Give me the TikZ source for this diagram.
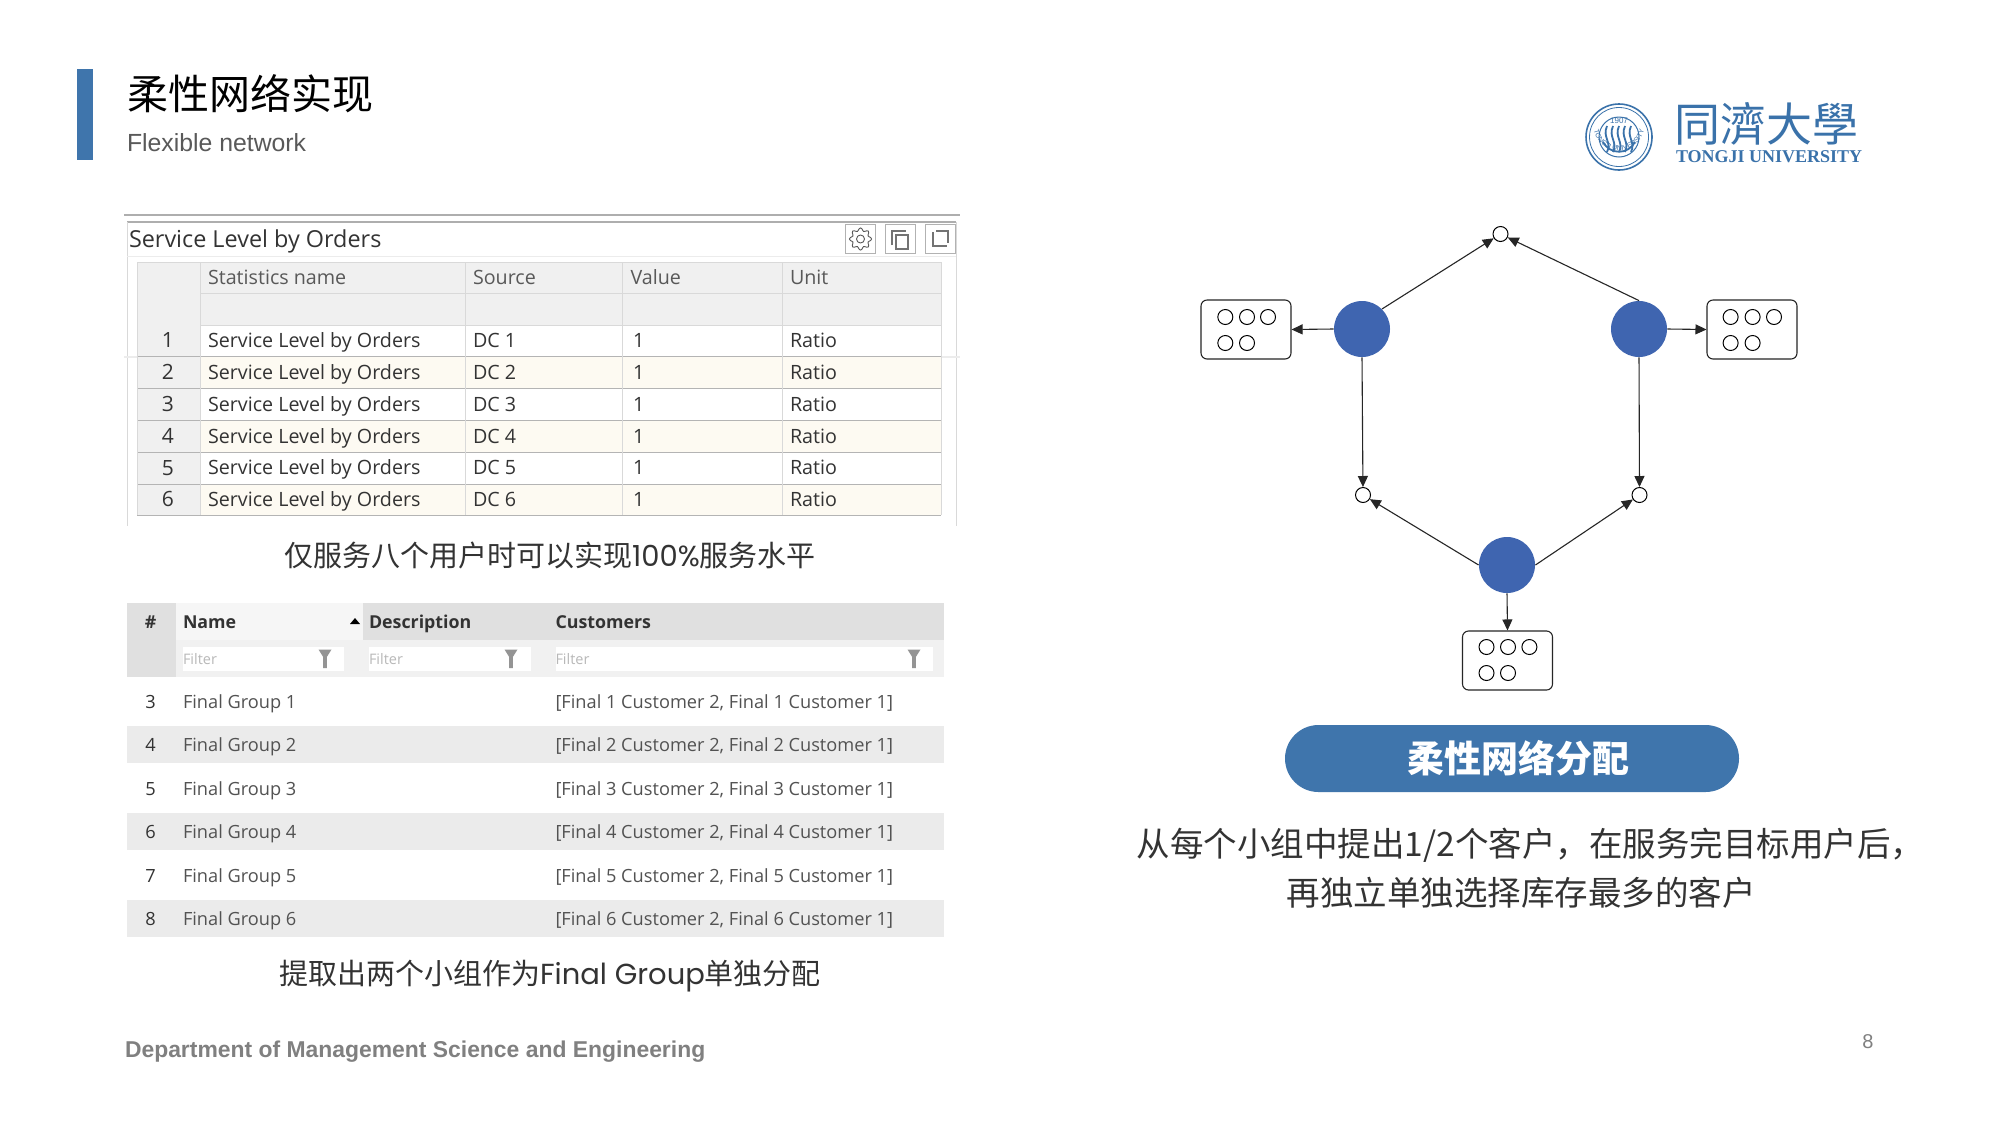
\documentclass[tikz,border=0pt]{standalone}
\usepackage{fontspec}
\setmainfont{Liberation Sans}
\newfontfamily\cjk{Noto Sans CJK SC}
\newfontfamily\opn{Open Sans}
\newfontfamily\pop{Poppins}
\newfontfamily\lserif{Liberation Serif}
\usetikzlibrary{arrows.meta,decorations.text}
\newcommand{\fpx}[1]{\fontsize{\fpeval{#1/2}pt}{\fpeval{#1/2*1.2}pt}\selectfont}
\definecolor{barblue}{HTML}{3F75AC}
\definecolor{dotblue}{HTML}{3F65B0}
\definecolor{logoblue}{HTML}{3A72AA}
\definecolor{headgray}{HTML}{F0F0F0}
\definecolor{cream}{HTML}{FDFAF2}
\definecolor{gridgray}{HTML}{B4B4B4}
\definecolor{softgray}{HTML}{D9D9D9}
\definecolor{headtwo}{HTML}{E0E0E0}
\definecolor{filtrow}{HTML}{F1F1F1}
\definecolor{stripe}{HTML}{EBEBEB}
\definecolor{txtdark}{HTML}{333333}
\tikzset{
  txt/.style={inner sep=0pt,outer sep=0pt},
  celltext/.style={txt,anchor=west,text=txtdark,font=\opn\fpx{19.7},text height=7pt,text depth=0pt},
  cellnum/.style={txt,text=txtdark,font=\opn\fpx{21},text height=7.5pt,text depth=0pt},
  groupcell/.style={txt,anchor=west,text=txtdark!85,font=\opn\fpx{18.2},text height=6.5pt,text depth=0pt},
  headtwotext/.style={txt,anchor=west,text=txtdark,font=\opn\bfseries\fpx{17.8},text height=6.4pt,text depth=0pt},
  filtertext/.style={txt,anchor=west,text=black!28,font=\opn\fpx{14.5},text height=5.2pt,text depth=0pt},
  caption/.style={txt,text=txtdark,font=\cjk\fpx{29},text height=12.7pt,text depth=1.7pt},
  bodytext/.style={txt,text=txtdark,font=\cjk\fpx{33.5},text height=14.7pt,text depth=2pt},
  hub/.style={circle,fill=dotblue,draw=none,minimum size=56*0.5pt,inner sep=0pt},
  slot/.style={circle,draw=black,fill=white,line width=0.5pt,minimum size=15*0.5pt,inner sep=0pt},
  custbox/.style={rectangle,rounded corners=3pt,draw=black!85,fill=white,line width=0.55pt,inner sep=0pt,minimum width=90*0.5pt,minimum height=59*0.5pt},
  link/.style={-{Triangle[length=5.5pt,width=5pt]},draw=black!85,line width=0.55pt},
  iconbox/.style={rectangle,draw=black!30,fill=white,line width=0.5pt,minimum width=30*0.5pt,minimum height=29*0.5pt,inner sep=0pt},
}
\begin{document}
\begin{tikzpicture}[x=0.5pt,y=-0.5pt]
\useasboundingbox (0,0) rectangle (2000,1125);
\fill[white] (0,0) rectangle (2000,1125);
% header
\fill[barblue] (77,69) rectangle (93,160);
\node[txt,anchor=west,font=\cjk\fpx{41},text=black,text height=18pt,text depth=2.4pt] (title) at (127,94) {柔性网络实现};
\node[txt,anchor=west,font=\fpx{24.8},text=black!65,text height=8.9pt,text depth=0pt] (subtitle) at (127,143) {Flexible network};
% logo
\begin{scope}[draw=logoblue]
\draw[line width=0.8pt] (1619,137) circle (33);
\draw[line width=0.4pt] (1619,137) circle (29.5);
\draw[line width=0.5pt] (1619,137) circle (20);
\path[decorate,decoration={text along path,text align=center,text={|\fpx{7}\color{logoblue}|TONGJI UNIVERSITY}}]
  (1594,131) arc[start angle=194,end angle=346,radius=-25.7,x radius=25.7,y radius=-25.7];
\foreach \k in {-12,-6,0,6,12}{
  \draw[line width=0.9pt] (1619+\k,126) .. controls (1619+\k-5,137) and (1619+\k+5,142) .. (1619+\k,152);
}
\draw[line width=0.9pt] (1603,142) .. controls (1610,155) and (1628,155) .. (1635,142);
\end{scope}
\node[txt,font=\fpx{8},text=logoblue] (sealyear) at (1619,121) {1907};
\node[txt,anchor=west,font=\cjk\fpx{46},text=logoblue] (logocn) at (1674,124) {同濟大學};
\node[txt,anchor=west,font=\lserif\bfseries\fpx{18},text=logoblue,text height=5.8pt,text depth=0pt] (logoen) at (1676,157) {TONGJI UNIVERSITY};
% first panel
\draw[softgray!80!black,line width=0.8pt] (124,215) -- (960,215);
\draw[softgray!80!black,line width=0.8pt] (127,222) -- (956,222);
\draw[softgray,line width=0.4pt] (127,222) -- (127,526);
\draw[softgray,line width=0.4pt] (956,222) -- (956,526);
\draw[softgray!50,line width=0.4pt] (127,256) -- (956,256);
\node[txt,anchor=west,font=\opn\fpx{23.4},text=txtdark,text height=8.35pt,text depth=0pt] (ptitle) at (129,239) {Service Level by Orders};
\node[iconbox] (gearbox) at (860.5,239) {};
\node[iconbox] (copybox) at (900,239) {};
\node[iconbox] (expbox) at (940,239) {};
\draw[black!65,line width=0.45pt] (860.5,239) circle (4);
\draw[black!65,line width=0.45pt] plot[smooth cycle,samples=48,domain=0:352.5,variable=\t] ({860.5+(9.6+1.5*cos(8*\t))*cos(\t)},{239+(9.6+1.5*cos(8*\t))*sin(\t)});
\draw[black!55,line width=0.7pt] (892,245) -- (892,231) -- (906,231);
\draw[black!55,line width=0.9pt] (896,235) rectangle (908,249);
\draw[black!55,line width=0.9pt] (933,232) -- (933,246) -- (947,246);
\draw[black!55,line width=0.7pt] (936,231) -- (948,231) -- (948,243);
% table one
\fill[headgray] (137,262) rectangle (941,325);
\fill[headgray] (137,325) rectangle (200,515);
\foreach \r/\yy in {2/356,4/420,6/484}{ \fill[cream] (200,\yy) rectangle (941,\yy+32); }
\foreach \yy in {293,325}{ \draw[softgray,line width=0.5pt] (200,\yy) -- (941,\yy); }
\foreach \yy in {356,388,420,452,484,515}{ \draw[gridgray,line width=0.5pt] (137,\yy) -- (941,\yy); }
\draw[softgray!50,line width=0.6pt] (124,357) -- (137,357);
\draw[softgray!50,line width=0.6pt] (941,357) -- (960,357);
\foreach \xx in {200,465,622.5,782,941}{ \draw[softgray,line width=0.5pt] (\xx,262) -- (\xx,515); }
\draw[softgray,line width=0.5pt] (137,262) -- (941,262);
\draw[softgray,line width=0.5pt] (137,262) -- (137,515);
\node[celltext,text=black!65] (h1) at (208,277) {Statistics name};
\node[celltext,text=black!65] (h2) at (473,277) {Source};
\node[celltext,text=black!65] (h3) at (630.5,277) {Value};
\node[celltext,text=black!65] (h4) at (790,277) {Unit};
\foreach \r/\yy in {1/340,2/372,3/404,4/436,5/467.5,6/499}{
  \node[cellnum] (rn\r) at (168,\yy) {\r};
  \node[celltext] (rs\r) at (208,\yy) {Service Level by Orders};
  \node[celltext] (rd\r) at (473,\yy) {DC \r};
  \node[celltext] (rv\r) at (633,\yy) {1};
  \node[celltext] (ru\r) at (790,\yy) {Ratio};
}
\node[caption] (cap1) at (550,555) {仅服务八个用户时可以实现{\pop 100\%}服务水平};
% table two
\fill[headtwo] (127,603) rectangle (944,640);
\fill[headtwo] (127,640) rectangle (176,677);
\fill[filtrow] (176,640) rectangle (944,677);
\fill[black!3.5] (176,603) rectangle (362.5,640);
\foreach \a/\b in {183/344,369/531,555.5/933}{ \fill[white] (\a,647) rectangle (\b,671); }
\foreach \xx in {325,511,914}{
  \fill[black!42] (\xx-6.5,649.5) -- (\xx+6.5,649.5) -- (\xx+1.8,657) -- (\xx+1.8,668) -- (\xx-1.8,668) -- (\xx-1.8,657) -- cycle;
}
\fill[black] (350,624) -- (360,624) -- (355,618) -- cycle;
\foreach \yy in {726,813,900}{ \fill[stripe] (127,\yy) rectangle (944,\yy+37); }
\node[txt,font=\opn\bfseries\fpx{17.8},text=txtdark,text height=6.4pt,text depth=0pt] (hhash) at (150.5,622) {\#};
\node[headtwotext] (hname) at (183,622) {Name};
\node[headtwotext] (hdesc) at (369,622) {Description};
\node[headtwotext] (hcust) at (555.5,622) {Customers};
\node[filtertext] (f1) at (183,659) {Filter};
\node[filtertext] (f2) at (369,659) {Filter};
\node[filtertext] (f3) at (555.5,659) {Filter};
\foreach \n/\g/\yy in {3/1/701.5,4/2/745,5/3/788.5,6/4/832,7/5/875.5,8/6/919}{
  \node[cellnum,font=\opn\fpx{18.2},text height=6.5pt] (gn\g) at (150.5,\yy) {\n};
  \node[groupcell] (gg\g) at (183,\yy) {Final Group \g};
  \node[groupcell] (gc\g) at (555.5,\yy) {[Final \g{} Customer 2, Final \g{} Customer 1]};
}
\node[caption] (cap2) at (550,973) {提取出两个小组作为{\pop Final Group}单独分配};
% network
\node[hub] (L) at (1362,329) {};
\node[hub] (R) at (1639,329) {};
\node[hub] (B) at (1507,565) {};
\node[slot] (T) at (1500.5,234) {};
\node[slot] (SL) at (1363,495) {};
\node[slot] (SR) at (1639.5,495) {};
\node[custbox] (BL) at (1246,329.5) {};
\node[custbox] (BR) at (1752,329.5) {};
\node[custbox] (BB) at (1507.5,660.5) {};
\foreach \p/\x/\y in {a1/1225.3/317,a2/1247/317,a3/1268/317,a4/1225.3/343,a5/1247/343,
  b1/1730.6/317,b2/1752.6/317,b3/1774/317,b4/1730.6/343,b5/1752.6/343,
  c1/1486.5/647,c2/1508/647,c3/1529.4/647,c4/1486.5/673,c5/1508/673}{
  \node[slot] (\p) at (\x,\y) {};
}
\draw[link] (L.45) -- (T);
\draw[link] (R.north) -- (T);
\draw[link] (L.west) -- (BL.east);
\draw[link] (R.east) -- (BR.west);
\draw[link] (L.south) -- (SL);
\draw[link] (R.south) -- (SR);
\draw[link] (B.west) -- (SL);
\draw[link] (B.east) -- (SR);
\draw[link] (B.south) -- (BB.north);
% pill
\node[rectangle,rounded corners=16.75pt,fill=barblue,minimum width=454*0.5pt,minimum height=67*0.5pt,inner sep=0pt,text=white,font=\cjk\bfseries\fpx{37}] (pill) at (1512,758.5) {\hspace*{6pt}柔性网络分配};
\node[bodytext] (body1) at (1530.5,844) {从每个小组中提出1/2个客户，在服务完目标用户后，};
\node[bodytext] (body2) at (1521,893) {再独立单独选择库存最多的客户};
% footer
\node[txt,anchor=west,font=\bfseries\fpx{22.9},text=black!50,text height=8.2pt,text depth=0pt] (foot) at (125,1049) {Department of Management Science and Engineering};
\node[txt,font=\fpx{20},text=black!50] (pageno) at (1868,1042) {8};
\end{tikzpicture}
\end{document}
